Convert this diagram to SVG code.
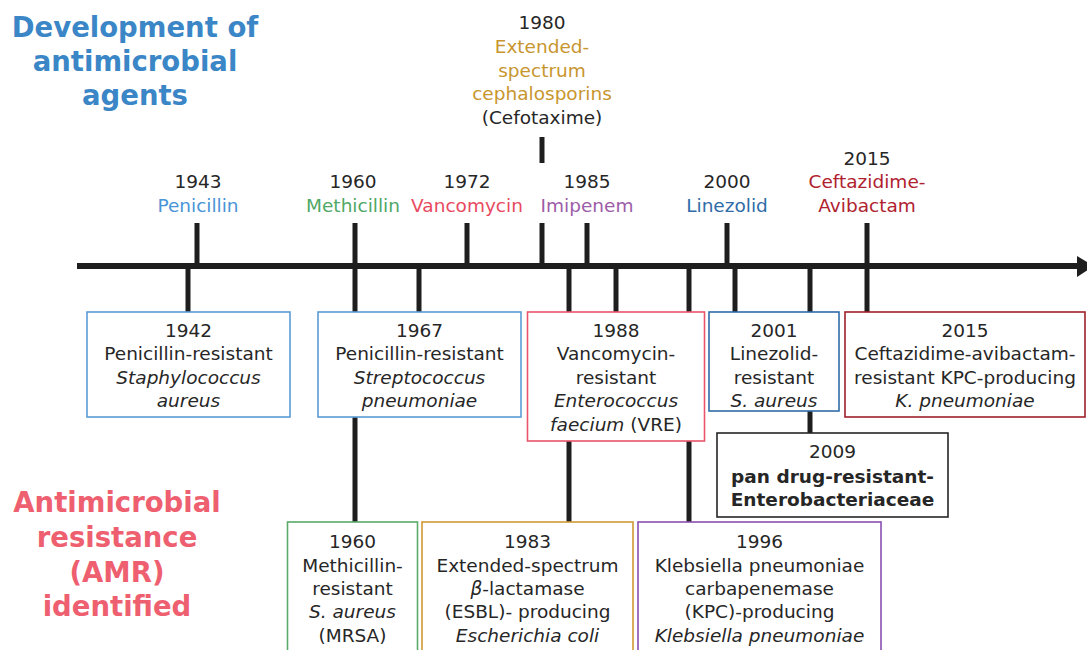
<svg xmlns="http://www.w3.org/2000/svg" width="1087" height="650" viewBox="0 0 1087 650">
<style>
  text { font-family: "DejaVu Sans", "Liberation Sans", sans-serif; font-size: 18.5px; fill: #262626; text-anchor: middle; }
  .title { font-size: 27.5px; font-weight: bold; }
  .b { font-weight: bold; }
  .i { font-style: italic; }
  .box { fill: #ffffff; stroke-width: 1.6; }
  .ln { stroke: #1e1e1e; stroke-width: 5; fill: none; }
</style>
<rect width="1087" height="650" fill="#ffffff"/>

<g id="title-development">
  <text class="title" x="135" y="37" style="fill:#3b86c6">Development of</text>
  <text class="title" x="135" y="71" style="fill:#3b86c6">antimicrobial</text>
  <text class="title" x="135" y="105" style="fill:#3b86c6">agents</text>
</g>
<g id="title-amr">
  <text class="title" x="117" y="512" style="fill:#ee5f70">Antimicrobial</text>
  <text class="title" x="117" y="547" style="fill:#ee5f70">resistance</text>
  <text class="title" x="117" y="582" style="fill:#ee5f70">(AMR)</text>
  <text class="title" x="117" y="616" style="fill:#ee5f70">identified</text>
</g>

<g id="connectors">
  <line x1="77" y1="266" x2="1080" y2="266" stroke="#1e1e1e" stroke-width="6"/>
  <polygon points="1077,256 1094,266 1077,277" fill="#1e1e1e"/>
  <!-- upper ticks -->
  <line class="ln" x1="197" y1="223" x2="197" y2="266"/>
  <line class="ln" x1="355" y1="223" x2="355" y2="266"/>
  <line class="ln" x1="467" y1="223" x2="467" y2="266"/>
  <line class="ln" x1="542" y1="223" x2="542" y2="266"/>
  <line class="ln" x1="542" y1="137" x2="542" y2="163"/>
  <line class="ln" x1="587" y1="223" x2="587" y2="266"/>
  <line class="ln" x1="727" y1="223" x2="727" y2="266"/>
  <line class="ln" x1="867" y1="223" x2="867" y2="266"/>
  <!-- lower ticks -->
  <line class="ln" x1="188" y1="266" x2="188" y2="312"/>
  <line class="ln" x1="355" y1="266" x2="355" y2="312"/>
  <line class="ln" x1="419" y1="266" x2="419" y2="312"/>
  <line class="ln" x1="569" y1="266" x2="569" y2="312"/>
  <line class="ln" x1="616" y1="266" x2="616" y2="312"/>
  <line class="ln" x1="689" y1="266" x2="689" y2="312"/>
  <line class="ln" x1="735" y1="266" x2="735" y2="312"/>
  <line class="ln" x1="810" y1="266" x2="810" y2="312"/>
  <line class="ln" x1="867" y1="266" x2="867" y2="312"/>
  <!-- continuations -->
  <line class="ln" x1="355" y1="417" x2="355" y2="522"/>
  <line class="ln" x1="569" y1="441" x2="569" y2="522"/>
  <line class="ln" x1="689" y1="441" x2="689" y2="522"/>
  <line class="ln" x1="810" y1="411" x2="810" y2="433"/>
</g>

<g id="drug-1943">
  <text x="198" y="188">1943</text>
  <text x="198" y="212" style="fill:#4a94d8">Penicillin</text>
</g>
<g id="drug-1960">
  <text x="353" y="188">1960</text>
  <text x="353" y="212" style="fill:#4fa865">Methicillin</text>
</g>
<g id="drug-1972">
  <text x="467" y="188">1972</text>
  <text x="467" y="212" style="fill:#e84a60">Vancomycin</text>
</g>
<g id="drug-1980">
  <text x="542" y="29">1980</text>
  <text x="542" y="53" style="fill:#c8962e">Extended-</text>
  <text x="542" y="77" style="fill:#c8962e">spectrum</text>
  <text x="542" y="100" style="fill:#c8962e">cephalosporins</text>
  <text x="542" y="124">(Cefotaxime)</text>
</g>
<g id="drug-1985">
  <text x="587" y="188">1985</text>
  <text x="587" y="212" style="fill:#9c5ca8">Imipenem</text>
</g>
<g id="drug-2000">
  <text x="727" y="188">2000</text>
  <text x="727" y="212" style="fill:#2f6ca8">Linezolid</text>
</g>
<g id="drug-2015">
  <text x="867" y="165">2015</text>
  <text x="867" y="188" style="fill:#b0222f">Ceftazidime-</text>
  <text x="867" y="212" style="fill:#b0222f">Avibactam</text>
</g>

<g id="amr-1942">
  <rect class="box" x="87" y="312" width="203" height="105" stroke="#5b9bd5"/>
  <text x="188.5" y="337">1942</text>
  <text x="188.5" y="360">Penicillin-resistant</text>
  <text x="188.5" y="384" class="i">Staphylococcus</text>
  <text x="188.5" y="407" class="i">aureus</text>
</g>
<g id="amr-1967">
  <rect class="box" x="318" y="312" width="203" height="105" stroke="#5b9bd5"/>
  <text x="419.5" y="337">1967</text>
  <text x="419.5" y="360">Penicillin-resistant</text>
  <text x="419.5" y="384" class="i">Streptococcus</text>
  <text x="419.5" y="407" class="i">pneumoniae</text>
</g>
<g id="amr-1988">
  <rect class="box" x="527.5" y="312" width="177" height="129" stroke="#e8546a"/>
  <text x="616" y="337">1988</text>
  <text x="616" y="360">Vancomycin-</text>
  <text x="616" y="384">resistant</text>
  <text x="616" y="407" class="i">Enterococcus</text>
  <text x="616" y="431"><tspan class="i">faecium</tspan> (VRE)</text>
</g>
<g id="amr-2001">
  <rect class="box" x="709" y="312" width="130" height="99" stroke="#2f6ca8"/>
  <text x="774" y="337">2001</text>
  <text x="774" y="360">Linezolid-</text>
  <text x="774" y="384">resistant</text>
  <text x="774" y="407" class="i">S. aureus</text>
</g>
<g id="amr-2015">
  <rect class="box" x="845" y="312" width="240" height="105" stroke="#a0202a"/>
  <text x="965" y="337">2015</text>
  <text x="965" y="360">Ceftazidime-avibactam-</text>
  <text x="965" y="384">resistant KPC-producing</text>
  <text x="965" y="407" class="i">K. pneumoniae</text>
</g>
<g id="amr-2009">
  <rect class="box" x="717" y="433" width="231" height="84" stroke="#262626"/>
  <text x="832.5" y="458">2009</text>
  <text x="832.5" y="483" class="b">pan drug-resistant-</text>
  <text x="832.5" y="506" class="b">Enterobacteriaceae</text>
</g>
<g id="amr-1960">
  <rect class="box" x="287.5" y="522" width="130" height="135" stroke="#5aaa6a"/>
  <text x="352.5" y="548">1960</text>
  <text x="352.5" y="572">Methicillin-</text>
  <text x="352.5" y="595">resistant</text>
  <text x="352.5" y="618" class="i">S. aureus</text>
  <text x="352.5" y="642">(MRSA)</text>
</g>
<g id="amr-1983">
  <rect class="box" x="422" y="522" width="211" height="135" stroke="#cf9a35"/>
  <text x="527.5" y="548">1983</text>
  <text x="527.5" y="572">Extended-spectrum</text>
  <text x="527.5" y="595"><tspan class="i">β</tspan>-lactamase</text>
  <text x="527.5" y="618">(ESBL)- producing</text>
  <text x="527.5" y="642" class="i">Escherichia coli</text>
</g>
<g id="amr-1996">
  <rect class="box" x="638" y="522" width="243" height="135" stroke="#8a4fb0"/>
  <text x="759.5" y="548">1996</text>
  <text x="759.5" y="572">Klebsiella pneumoniae</text>
  <text x="759.5" y="595">carbapenemase</text>
  <text x="759.5" y="618">(KPC)-producing</text>
  <text x="759.5" y="642" class="i">Klebsiella pneumoniae</text>
</g>
</svg>
